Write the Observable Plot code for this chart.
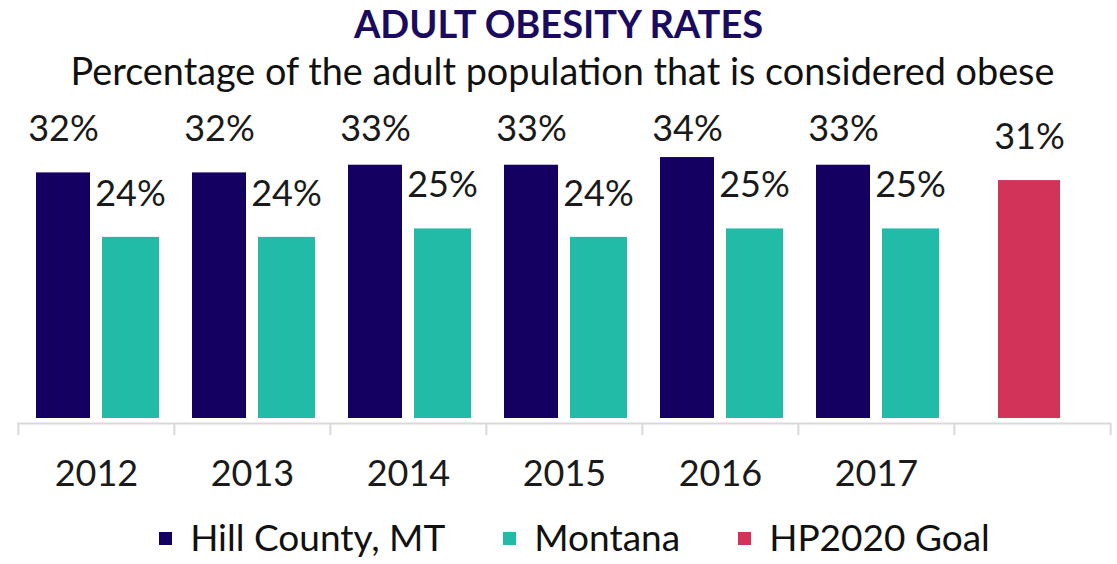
<!DOCTYPE html>
<html>
<head>
<meta charset="utf-8">
<script src="https://cdn.jsdelivr.net/npm/d3@7"></script>
<script src="https://cdn.jsdelivr.net/npm/@observablehq/plot@0.6"></script>
<style>
  html, body { margin: 0; padding: 0; background: #fff; }
  #wrap { width: 1117px; height: 564px; overflow: hidden; font-family: Lato, "Noto Sans", sans-serif; }
  #title { height: 46px; line-height: 46px; text-align: center; font-weight: 700; font-size: 38px; color: #1a0a60; }
  #subtitle { height: 50px; line-height: 50px; text-align: center; font-size: 37.8px; color: #111; padding-left: 8px; box-sizing: border-box; }
  #chart svg { display: block; overflow: visible; }
  #legend { height: 58px; box-sizing: border-box; padding-top: 2px; padding-left: 32px; display: flex; justify-content: center; align-items: center; gap: 58px; font-size: 37px; color: #111; white-space: nowrap; }
  .item { display: flex; align-items: center; }
  .sw { width: 13px; height: 13px; margin-right: 18px; margin-top: 4px; }
</style>
</head>
<body>
<div id="wrap">
  <div id="title"></div>
  <div id="subtitle"></div>
  <div id="chart"></div>
  <div id="legend"></div>
</div>
<script>
// ---- data ----
const titleText = "ADULT OBESITY RATES";
const subtitleText = "Percentage of the adult population that is considered obese";
const years = ["2012", "2013", "2014", "2015", "2016", "2017"];
const goalCategory = "HP2020 Goal";
const tickLabels = ["2012", "2013", "2014", "2015", "2016", "2017", ""];
const hillCounty = [32, 32, 33, 33, 34, 33];
const montana = [23.6, 23.6, 24.7, 23.6, 24.7, 24.7];
const goalValue = [31];
const seriesNames = ["Hill County, MT", "Montana", "HP2020 Goal"];
const seriesColors = ["#140060", "#21bba8", "#d13458"];

// ---- tables ----
const categories = [...years, goalCategory];
const hillData = years.map((y, i) => ({cat: y, value: hillCounty[i]}));
const montanaData = years.map((y, i) => ({cat: y, value: montana[i]}));
const goalData = goalValue.map(v => ({cat: goalCategory, value: v}));
const fmt = v => Math.round(v) + "%";

document.getElementById("title").textContent = titleText;
document.getElementById("subtitle").textContent = subtitleText;

const W = 1117, H = 410, mL = 17, mR = 6, mT = 15, mB = 88;
const bw = (W - mL - mR) / categories.length;
const axisColor = "#d9d9d9";
const labelSize = 36;

const chart = Plot.plot({
  width: W, height: H,
  marginLeft: mL, marginRight: mR, marginTop: mT, marginBottom: mB,
  x: {domain: categories, padding: 0, axis: null},
  y: {domain: [0, 40], axis: null},
  style: {fontFamily: "Lato, 'Noto Sans', sans-serif", color: "#1a1a1a", background: "transparent", overflow: "visible"},
  marks: [
    Plot.barY(hillData, {x: "cat", y: "value", fill: seriesColors[0], insetLeft: 18, insetRight: 84}),
    Plot.barY(montanaData, {x: "cat", y: "value", fill: seriesColors[1], insetLeft: 84, insetRight: 15}),
    Plot.barY(goalData, {x: "cat", y: "value", fill: seriesColors[2], insetLeft: 44, insetRight: 50}),
    Plot.ruleY([0], {dy: 5, stroke: axisColor, strokeWidth: 2}),
    Plot.ruleX(categories, {x: d => d, y1: () => 0, y2: () => 0, dx: -bw / 2, insetTop: 5, insetBottom: -17, stroke: axisColor, strokeWidth: 2}),
    Plot.ruleX([goalCategory], {x: d => d, y1: () => 0, y2: () => 0, dx: bw / 2, insetTop: 5, insetBottom: -17, stroke: axisColor, strokeWidth: 2}),
    // Hill County labels are pinned to the top of the plot area (as in the original)
    Plot.text(hillData, {x: "cat", frameAnchor: "top", lineAnchor: "middle", text: d => fmt(d.value), dx: -33, dy: 18, fontSize: labelSize}),
    Plot.text(montanaData, {x: "cat", y: "value", text: d => fmt(d.value), dx: 34, dy: -43, fontSize: labelSize}),
    Plot.text(goalData, {x: "cat", y: "value", text: d => fmt(d.value), dx: -3, dy: -43, fontSize: labelSize}),
    Plot.text(categories, {x: d => d, y: () => 0, text: (d, i) => tickLabels[i], dy: 56, fontSize: labelSize})
  ]
});
document.getElementById("chart").appendChild(chart);

const legend = document.getElementById("legend");
seriesNames.forEach((name, i) => {
  const item = document.createElement("div");
  item.className = "item";
  const sw = document.createElement("span");
  sw.className = "sw";
  sw.style.background = seriesColors[i];
  const label = document.createElement("span");
  label.textContent = name;
  item.appendChild(sw);
  item.appendChild(label);
  legend.appendChild(item);
});
</script>
</body>
</html>
